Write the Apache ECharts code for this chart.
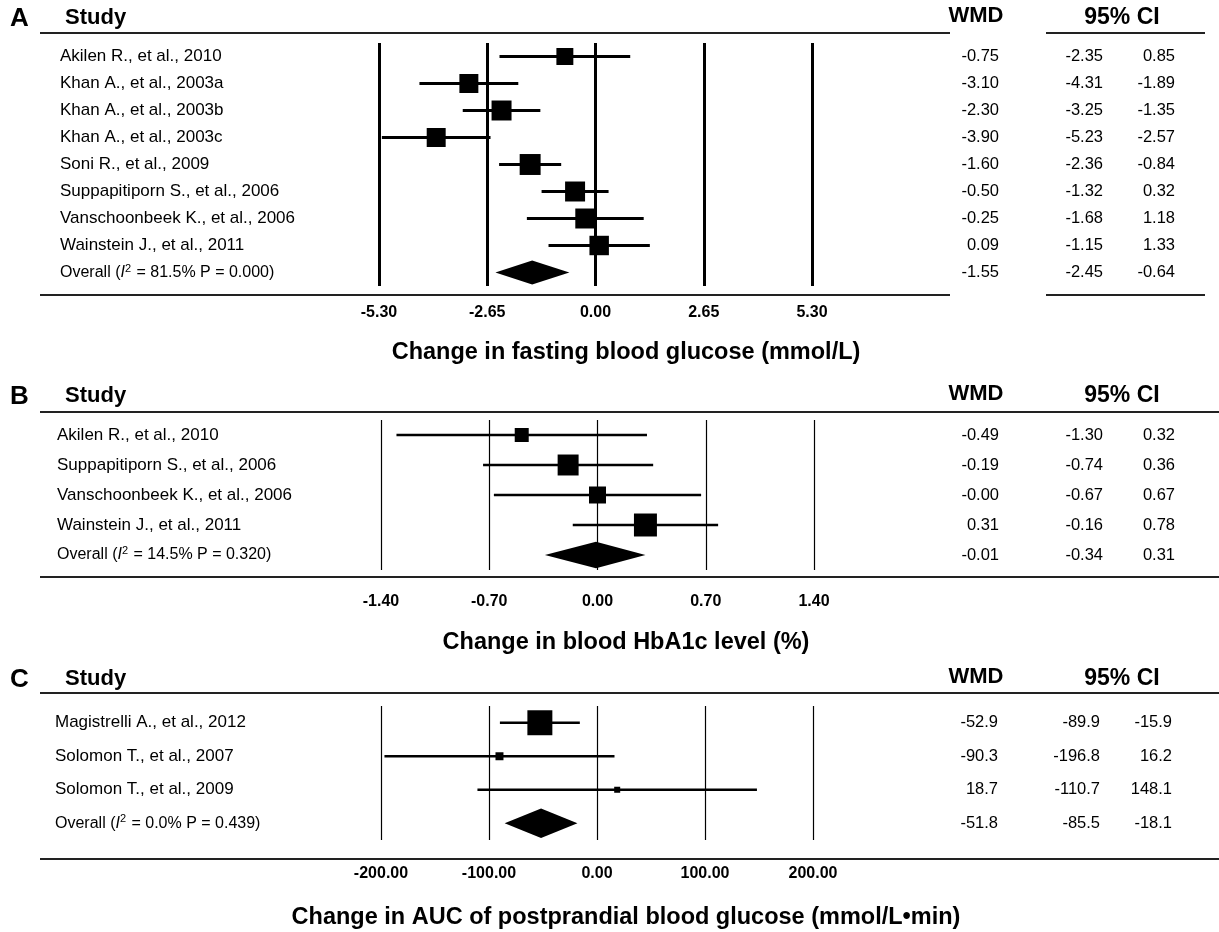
<!DOCTYPE html>
<html>
<head>
<meta charset="utf-8">
<script src="https://cdn.jsdelivr.net/npm/echarts@6/dist/echarts.min.js"></script>
<style>
  html, body { margin: 0; background: #fff; }
  #chart { width: 1219px; height: 932px; }
</style>
</head>
<body>
<div id="chart"></div>
<script>
// ---- data: panel A, fasting blood glucose (mmol/L)
const studiesA = ['Akilen R., et al., 2010', 'Khan A., et al., 2003a', 'Khan A., et al., 2003b', 'Khan A., et al., 2003c',
  'Soni R., et al., 2009', 'Suppapitiporn S., et al., 2006', 'Vanschoonbeek K., et al., 2006', 'Wainstein J., et al., 2011'];
const wmdA = [-0.75, -3.10, -2.30, -3.90, -1.60, -0.50, -0.25, 0.09];
const loA = [-2.35, -4.31, -3.25, -5.23, -2.36, -1.32, -1.68, -1.15];
const hiA = [0.85, -1.89, -1.35, -2.57, -0.84, 0.32, 1.18, 1.33];
const weightA = [9.5, 11.9, 13.2, 11.9, 14.5, 13.2, 13.2, 12.5];
const pooledA = [-1.55, -2.45, -0.64];
const hetA = ['81.5%', '0.000'];
const ticksA = [-5.30, -2.65, 0.00, 2.65, 5.30];

// ---- data: panel B, HbA1c (%)
const studiesB = ['Akilen R., et al., 2010', 'Suppapitiporn S., et al., 2006', 'Vanschoonbeek K., et al., 2006', 'Wainstein J., et al., 2011'];
const wmdB = [-0.49, -0.19, -0.00, 0.31];
const loB = [-1.30, -0.74, -0.67, -0.16];
const hiB = [0.32, 0.36, 0.67, 0.78];
const weightB = [13.5, 30.3, 19.9, 36.4];
const pooledB = [-0.01, -0.34, 0.31];
const hetB = ['14.5%', '0.320'];
const ticksB = [-1.40, -0.70, 0.00, 0.70, 1.40];

// ---- data: panel C, AUC of postprandial glucose (mmol/L·min)
const studiesC = ['Magistrelli A., et al., 2012', 'Solomon T., et al., 2007', 'Solomon T., et al., 2009'];
const wmdC = [-52.9, -90.3, 18.7];
const loC = [-89.9, -196.8, -110.7];
const hiC = [-15.9, 16.2, 148.1];
const weightC = [86.2, 8.8, 5.0];
const pooledC = [-51.8, -85.5, -18.1];
const hetC = ['0.0%', '0.439'];
const ticksC = [-200, -100, 0, 100, 200];

const FONT = '"Liberation Sans", Arial, Helvetica, sans-serif';

const panels = [
  { letter: 'A', studies: studiesA, wmd: wmdA, lo: loA, hi: hiA, w: weightA, pooled: pooledA, het: hetA, ticks: ticksA, dec: 2,
    title: 'Change in fasting blood glucose (mmol/L)' },
  { letter: 'B', studies: studiesB, wmd: wmdB, lo: loB, hi: hiB, w: weightB, pooled: pooledB, het: hetB, ticks: ticksB, dec: 2,
    title: 'Change in blood HbA1c level (%)' },
  { letter: 'C', studies: studiesC, wmd: wmdC, lo: loC, hi: hiC, w: weightC, pooled: pooledC, het: hetC, ticks: ticksC, dec: 1,
    title: 'Change in AUC of postprandial blood glucose (mmol/L\u2022min)' }
];

// layout per panel (pixels)
const layout = [
  { left: 379, right: 812, top: 43, height: 243, labelX: 60, tickMargin: 19, gridW: 3, ciW: 3, boxK: 5.5,
    head: 18, rules: [[33, [[40, 950], [1046, 1205]]], [295, [[40, 950], [1046, 1205]]]], titleY: 353,
    mW: 187, mL: 291, mH: 363 },
  { left: 381, right: 814, top: 420, height: 150, labelX: 57, tickMargin: 24, gridW: 1.2, ciW: 2.5, boxK: 3.81,
    head: 396, rules: [[412, [[40, 1219]]], [577, [[40, 1219]]]], titleY: 643,
    mW: 185, mL: 289, mH: 361 },
  { left: 381, right: 813, top: 706, height: 134, labelX: 55, tickMargin: 26, gridW: 1.2, ciW: 2.5, boxK: 2.69,
    head: 679, rules: [[693, [[40, 1219]]], [859, [[40, 1219]]]], titleY: 918,
    mW: 185, mL: 287, mH: 359 }
];

function fmt(v, d) {
  return (v < 0 || Object.is(v, -0) ? '-' : '') + Math.abs(v).toFixed(d);
}

function forestItem(L) {
  return function (params, api) {
    const y = api.value(1);
    const c = api.coord([api.value(0), y]);
    const a = api.coord([api.value(2), y]);
    const b = api.coord([api.value(3), y]);
    const band = api.size([0, 1])[1];
    if (api.value(5)) {
      const hh = band * 0.44;
      return {
        type: 'polygon',
        shape: { points: [[a[0], c[1]], [c[0], c[1] - hh], [b[0], c[1]], [c[0], c[1] + hh]] },
        style: { fill: '#000' }
      };
    }
    const s = L.boxK * Math.sqrt(api.value(4));
    return {
      type: 'group',
      children: [
        { type: 'line', shape: { x1: a[0], y1: c[1], x2: b[0], y2: c[1] }, style: { stroke: '#000', lineWidth: L.ciW } },
        { type: 'rect', shape: { x: c[0] - s / 2, y: c[1] - s / 2, width: s, height: s }, style: { fill: '#000' } }
      ]
    };
  };
}

const option = { animation: false, backgroundColor: '#fff', grid: [], xAxis: [], yAxis: [], series: [], graphic: [] };

panels.forEach((pn, k) => {
  const L = layout[k];
  const n = pn.studies.length + 1;
  const cats = pn.studies.concat(['Overall']);
  const rows = pn.studies.map((s, i) => [pn.wmd[i], i, pn.lo[i], pn.hi[i], pn.w[i], 0]);
  rows.push([pn.pooled[0], n - 1, pn.pooled[1], pn.pooled[2], 0, 1]);
  const step = +(pn.ticks[1] - pn.ticks[0]).toFixed(6);

  option.grid.push({ left: L.left, top: L.top, width: L.right - L.left, height: L.height });
  option.xAxis.push({
    gridIndex: k, type: 'value', min: pn.ticks[0], max: pn.ticks[pn.ticks.length - 1], interval: step,
    axisLine: { show: false }, axisTick: { show: false },
    splitLine: { show: true, lineStyle: { color: '#000', width: L.gridW } },
    axisLabel: { margin: L.tickMargin, fontFamily: FONT, fontWeight: 'bold', fontSize: 16, color: '#000',
      formatter: v => fmt(v, 2) }
  });
  const yBase = option.yAxis.length;
  option.yAxis.push({
    gridIndex: k, type: 'category', data: cats, inverse: true,
    axisLine: { show: false }, axisTick: { show: false }, splitLine: { show: false },
    axisLabel: {
      interval: 0, align: 'left', margin: L.left - L.labelX, fontFamily: FONT, fontSize: 17, color: '#000',
      formatter: (v, i) => i === n - 1
        ? '{o|Overall (}{i|I}{s|2}{o| = ' + pn.het[0] + ' P = ' + pn.het[1] + ')}'
        : v,
      rich: {
        o: { fontFamily: FONT, fontSize: 16, color: '#000' },
        i: { fontFamily: FONT, fontSize: 16, fontStyle: 'italic', color: '#000' },
        s: { fontFamily: FONT, fontSize: 11, color: '#000', padding: [0, 1, 8, 0] }
      }
    }
  });
  [[pn.wmd, pn.pooled[0], L.mW], [pn.lo, pn.pooled[1], L.mL], [pn.hi, pn.pooled[2], L.mH]].forEach(([vals, pv, m]) => {
    option.yAxis.push({
      gridIndex: k, type: 'category', position: 'right', inverse: true,
      data: vals.concat([pv]).map(v => fmt(v, pn.dec)),
      axisLine: { show: false }, axisTick: { show: false }, splitLine: { show: false },
      axisLabel: { interval: 0, align: 'right', margin: m, fontFamily: FONT, fontSize: 16.5, color: '#000' }
    });
  });

  option.series.push({
    type: 'custom', xAxisIndex: k, yAxisIndex: yBase, data: rows,
    encode: { x: 0, y: 1 }, renderItem: forestItem(L), silent: true
  });

  // table rules
  L.rules.forEach(([y, segs]) => segs.forEach(([x1, x2]) => option.graphic.push({
    type: 'line', shape: { x1: x1, y1: y, x2: x2, y2: y }, style: { stroke: '#222', lineWidth: 2 }, silent: true
  })));
  const txt = (x, y, text, size, align) => option.graphic.push({
    type: 'text', x: x, y: y, silent: true,
    style: { text: text, fill: '#000', fontFamily: FONT, fontWeight: 'bold', fontSize: size, align: align, verticalAlign: 'middle' }
  });
  txt(10, L.head + 1, pn.letter, 26, 'left');
  txt(65, L.head, 'Study', 22, 'left');
  txt(976, L.head - 2, 'WMD', 22, 'center');
  txt(1122, L.head, '95% CI', 23, 'center');
  txt(626, L.titleY, pn.title, 23.5, 'center');
});

const chart = echarts.init(document.getElementById('chart'), null, { renderer: 'canvas' });
chart.setOption(option);
</script>
</body>
</html>
